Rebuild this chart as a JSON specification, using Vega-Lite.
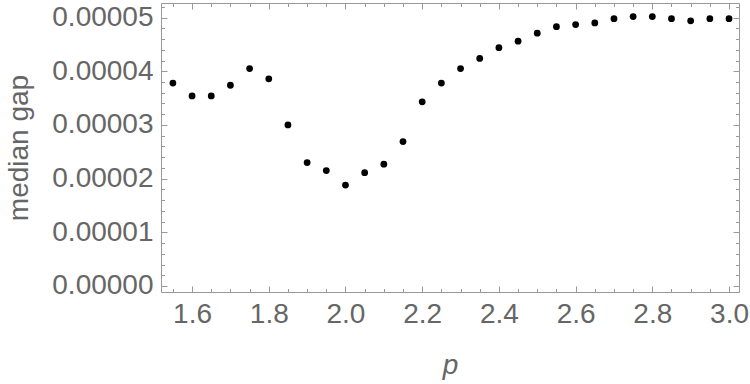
{
  "$schema": "https://vega.github.io/schema/vega-lite/v6.json",
  "autosize": "none",
  "width": 578,
  "height": 289,
  "padding": {"left": 161, "top": 3, "right": 11, "bottom": 92},
  "background": "white",
  "config": {
    "view": {"stroke": "#999999", "strokeWidth": 1},
    "axis": {
      "grid": false,
      "domain": false,
      "labelFont": "Liberation Sans",
      "titleFont": "Liberation Sans",
      "labelFontSize": 28,
      "titleFontSize": 28,
      "labelColor": "#666666",
      "titleColor": "#666666",
      "titleFontWeight": "normal",
      "tickColor": "#999999",
      "tickWidth": 1
    }
  },
  "data": {
    "values": [
      {"p": 1.55, "gap": 0.0000378},
      {"p": 1.60, "gap": 0.0000354},
      {"p": 1.65, "gap": 0.0000354},
      {"p": 1.70, "gap": 0.0000374},
      {"p": 1.75, "gap": 0.0000405},
      {"p": 1.80, "gap": 0.0000386},
      {"p": 1.85, "gap": 0.0000300},
      {"p": 1.90, "gap": 0.0000230},
      {"p": 1.95, "gap": 0.0000215},
      {"p": 2.00, "gap": 0.0000188},
      {"p": 2.05, "gap": 0.0000211},
      {"p": 2.10, "gap": 0.0000227},
      {"p": 2.15, "gap": 0.0000269},
      {"p": 2.20, "gap": 0.0000343},
      {"p": 2.25, "gap": 0.0000378},
      {"p": 2.30, "gap": 0.0000405},
      {"p": 2.35, "gap": 0.0000424},
      {"p": 2.40, "gap": 0.0000444},
      {"p": 2.45, "gap": 0.0000456},
      {"p": 2.50, "gap": 0.0000471},
      {"p": 2.55, "gap": 0.0000483},
      {"p": 2.60, "gap": 0.0000487},
      {"p": 2.65, "gap": 0.0000490},
      {"p": 2.70, "gap": 0.0000498},
      {"p": 2.75, "gap": 0.0000502},
      {"p": 2.80, "gap": 0.0000502},
      {"p": 2.85, "gap": 0.0000498},
      {"p": 2.90, "gap": 0.0000494},
      {"p": 2.95, "gap": 0.0000498},
      {"p": 3.00, "gap": 0.0000498}
    ]
  },
  "resolve": {"axis": {"x": "independent", "y": "independent"}},
  "layer": [
    {
      "mark": {"type": "point", "filled": true, "color": "black", "opacity": 1, "size": 46},
      "encoding": {
        "x": {"field": "p", "type": "quantitative", "scale": {"domain": [1.519, 3.026], "nice": false, "zero": false},
          "axis": {"orient": "bottom", "values": [1.6, 1.8, 2.0, 2.2, 2.4, 2.6, 2.8, 3.0], "format": ".1f", "ticks": false, "labelPadding": 8, "title": "p", "titleFontStyle": "italic", "titlePadding": 23}},
        "y": {"field": "gap", "type": "quantitative", "scale": {"domain": [-0.00000112, 0.00005272], "nice": false, "zero": false},
          "axis": {"orient": "left", "values": [0, 0.00001, 0.00002, 0.00003, 0.00004, 0.00005], "format": ".5f", "ticks": false, "labelPadding": 8, "title": "median gap", "titlePadding": 18}}
      }
    },
    {
      "mark": {"type": "point", "opacity": 0},
      "encoding": {
        "x": {"field": "p", "type": "quantitative", "scale": {"domain": [1.519, 3.026], "nice": false, "zero": false},
          "axis": {"orient": "top", "values": [1.6, 1.8, 2.0, 2.2, 2.4, 2.6, 2.8, 3.0], "labels": false, "tickSize": -6, "title": null}},
        "y": {"field": "gap", "type": "quantitative", "scale": {"domain": [-0.00000112, 0.00005272], "nice": false, "zero": false},
          "axis": {"orient": "right", "values": [0, 0.00001, 0.00002, 0.00003, 0.00004, 0.00005], "labels": false, "tickSize": -6, "title": null}}
      }
    },
    {
      "mark": {"type": "point", "opacity": 0},
      "encoding": {
        "x": {"field": "p", "type": "quantitative", "scale": {"domain": [1.519, 3.026], "nice": false, "zero": false},
          "axis": {"orient": "bottom", "values": [1.6, 1.8, 2.0, 2.2, 2.4, 2.6, 2.8, 3.0], "labels": false, "tickSize": -6, "title": null}},
        "y": {"field": "gap", "type": "quantitative", "scale": {"domain": [-0.00000112, 0.00005272], "nice": false, "zero": false},
          "axis": {"orient": "left", "values": [0, 0.00001, 0.00002, 0.00003, 0.00004, 0.00005], "labels": false, "tickSize": -6, "title": null}}
      }
    },
    {
      "mark": {"type": "point", "opacity": 0},
      "encoding": {
        "x": {"field": "p", "type": "quantitative", "scale": {"domain": [1.519, 3.026], "nice": false, "zero": false},
          "axis": {"orient": "top", "values": [1.55, 1.65, 1.7, 1.75, 1.85, 1.9, 1.95, 2.05, 2.1, 2.15, 2.25, 2.3, 2.35, 2.45, 2.5, 2.55, 2.65, 2.7, 2.75, 2.85, 2.9, 2.95], "labels": false, "tickSize": -3.5, "title": null}},
        "y": {"field": "gap", "type": "quantitative", "scale": {"domain": [-0.00000112, 0.00005272], "nice": false, "zero": false},
          "axis": {"orient": "right", "values": [0.000002, 0.000004, 0.000006, 0.000008, 0.000012, 0.000014, 0.000016, 0.000018, 0.000022, 0.000024, 0.000026, 0.000028, 0.000032, 0.000034, 0.000036, 0.000038, 0.000042, 0.000044, 0.000046, 0.000048, 0.000052], "labels": false, "tickSize": -3.5, "title": null}}
      }
    },
    {
      "mark": {"type": "point", "opacity": 0},
      "encoding": {
        "x": {"field": "p", "type": "quantitative", "scale": {"domain": [1.519, 3.026], "nice": false, "zero": false},
          "axis": {"orient": "bottom", "values": [1.55, 1.65, 1.7, 1.75, 1.85, 1.9, 1.95, 2.05, 2.1, 2.15, 2.25, 2.3, 2.35, 2.45, 2.5, 2.55, 2.65, 2.7, 2.75, 2.85, 2.9, 2.95], "labels": false, "tickSize": -3.5, "title": null}},
        "y": {"field": "gap", "type": "quantitative", "scale": {"domain": [-0.00000112, 0.00005272], "nice": false, "zero": false},
          "axis": {"orient": "left", "values": [0.000002, 0.000004, 0.000006, 0.000008, 0.000012, 0.000014, 0.000016, 0.000018, 0.000022, 0.000024, 0.000026, 0.000028, 0.000032, 0.000034, 0.000036, 0.000038, 0.000042, 0.000044, 0.000046, 0.000048, 0.000052], "labels": false, "tickSize": -3.5, "title": null}}
      }
    }
  ]
}
